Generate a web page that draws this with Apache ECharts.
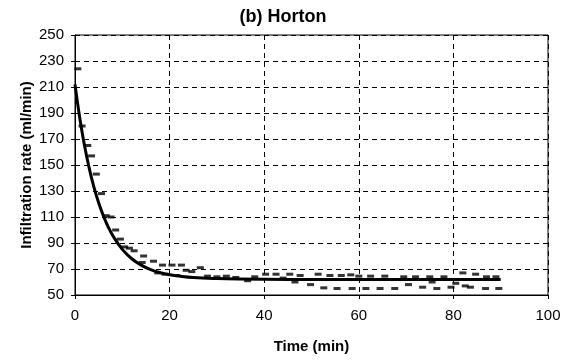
<!DOCTYPE html>
<html>
<head>
<meta charset="utf-8">
<style>
  html, body { margin: 0; padding: 0; background: #fff; }
  #chart { width: 566px; height: 360px; }
</style>
<script src="https://cdn.jsdelivr.net/npm/echarts@6/dist/echarts.min.js"></script>
</head>
<body>
<div id="chart"></div>
<script>
// Horton fit curve
const fitTime = [0, 1, 2, 3, 4, 5, 6, 7, 8, 10, 12, 14, 16, 18, 20, 25, 30, 40, 50, 60, 70, 80, 90];
const fitRate = [212, 186.4, 165.2, 147.6, 133, 120.9, 110.9, 102.5, 95.6, 85.1, 77.9, 73, 69.5, 67.2, 65.6, 63.4, 62.6, 62.1, 62, 62, 62, 62, 62];

// measured points (dash markers)
const obsTime = [0.6, 1.5, 2.7, 3.5, 4.5, 5.6, 6.6, 7.6, 8.6, 9.6, 10.5, 11.5, 12.5, 14.5, 14.2, 16.6, 17.5, 18.5, 19, 20.5,
  21.5, 22.5, 23.5, 24.7, 26.5, 28, 30, 32, 34, 36.5, 38, 40.3, 42.5, 44, 45.4, 46.5, 47.6, 49.8, 51.4, 52.6,
  53.9, 55.4, 56.3, 58.3, 58.6, 60, 61.5, 62.5, 64.5, 65.5, 67.6, 69.5, 70.5, 72, 73.5, 75, 75.5, 76.5, 78, 79.5,
  80.5, 82, 82.5, 83.6, 84.7, 86.8, 87, 89, 89.6];
const obsRate = [224, 180, 165, 157, 143, 128, 111, 110, 100, 93, 87, 86, 84, 80, 75, 76, 67, 73, 66, 73,
  65, 73, 69, 68, 71, 64.5, 64, 64.5, 63.5, 61, 64, 66, 66, 63, 66, 60, 65, 58, 66, 55.5,
  65, 55, 65, 65.5, 55, 64.5, 55, 64.5, 55, 64.5, 55, 64, 58, 64, 56, 64, 60, 55, 64, 56,
  59, 67, 57, 56, 66, 55, 64, 64, 55];

const chart = echarts.init(document.getElementById('chart'), null, { renderer: 'canvas' });

const font = 'Liberation Sans, Arial, sans-serif';
const gridLine = { show: true, lineStyle: { color: '#000', width: 1, type: [5, 4] } };

chart.setOption({
  backgroundColor: '#fff',
  animation: false,
  title: {
    text: '(b) Horton',
    left: 'center',
    top: 3,
    textStyle: { fontFamily: font, fontSize: 18, fontWeight: 'bold', color: '#000' },
  },
  grid: {
    left: 75, right: 18, top: 35, bottom: 65,
    show: true, borderColor: '#000', borderWidth: 1,
  },
  xAxis: {
    type: 'value',
    min: 0, max: 100, interval: 20,
    name: 'Time (min)',
    nameLocation: 'middle',
    nameGap: 44,
    nameMoveOverlap: false,
    nameTextStyle: { fontFamily: font, fontSize: 15, fontWeight: 'bold', color: '#000' },
    axisLine: { show: true, lineStyle: { color: '#000', width: 1 } },
    axisTick: { show: true, inside: false, length: 4, lineStyle: { color: '#000' } },
    axisLabel: { fontFamily: font, fontSize: 15, color: '#000', margin: 13 },
    splitLine: gridLine,
  },
  yAxis: {
    type: 'value',
    min: 50, max: 250, interval: 20,
    name: 'Infiltration rate (ml/min)',
    nameLocation: 'middle',
    nameGap: 41,
    nameMoveOverlap: false,
    nameTextStyle: { fontFamily: font, fontSize: 15, fontWeight: 'bold', color: '#000' },
    axisLine: { show: true, lineStyle: { color: '#000', width: 1 } },
    axisTick: { show: true, inside: false, length: 4, lineStyle: { color: '#000' } },
    axisLabel: { fontFamily: font, fontSize: 15, color: '#000', margin: 11 },
    splitLine: gridLine,
  },
  series: [
    {
      name: 'Observed',
      type: 'scatter',
      symbol: 'rect',
      symbolSize: [7, 3],
      itemStyle: { color: '#000' },
      data: obsTime.map((t, i) => [t, obsRate[i]]),
      z: 3,
    },
    {
      name: 'Horton',
      type: 'line',
      smooth: 0.4,
      showSymbol: false,
      lineStyle: { color: '#000', width: 3 },
      data: fitTime.map((t, i) => [t, fitRate[i]]),
      z: 4,
    },
  ],
});
</script>
</body>
</html>
